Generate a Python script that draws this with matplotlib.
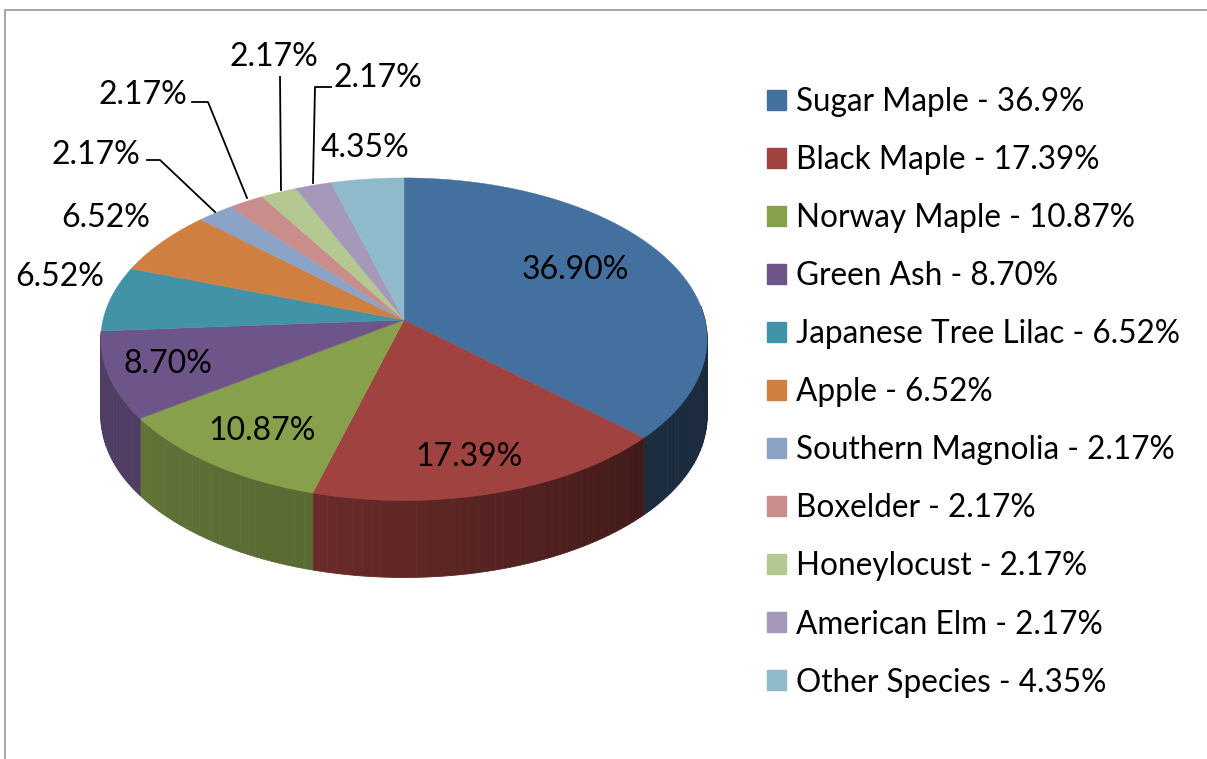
import numpy as np
import matplotlib
matplotlib.use('Agg')
import matplotlib.pyplot as plt
from matplotlib.patches import Patch

species = ['Sugar Maple', 'Black Maple', 'Norway Maple', 'Green Ash', 'Japanese Tree Lilac', 'Apple',
	'Southern Magnolia', 'Boxelder', 'Honeylocust', 'American Elm', 'Other Species']
shares = [36.90, 17.39, 10.87, 8.70, 6.52, 6.52, 2.17, 2.17, 2.17, 2.17, 4.35]
legend_values = ['36.9%', '17.39%', '10.87%', '8.70%', '6.52%', '6.52%', '2.17%', '2.17%', '2.17%', '2.17%', '4.35%']
colors = ['#44709f', '#a0423f', '#87a04c', '#6d5489', '#4292a8', '#cf8040',
	'#8ba3c6', '#c98e8c', '#b4c892', '#a598b8', '#8fbacb']
label_pos = [(575, 270), (469, 457), (262, 431), (168, 364), (60, 277), (106, 218),
	(96, 155), (143, 95), (274, 57), (378, 78), (365, 148)]
leaders = {6: [(147, 160), (160, 160), (215, 212)],
	7: [(192, 102), (208, 102), (247, 198)],
	8: [(280, 77), (281, 190)],
	9: [(331, 87), (315, 87), (313, 183)]}

plt.rcParams['font.family'] = ['Lato', 'DejaVu Sans']

# tilted disc, the far side is a bit smaller than the near side
CX, CY = 404, 320
RX, RY, PERSP = 301, 159, 0.119
DEPTH = 77


def project(theta):
	t = np.radians(theta)
	w = 1 + PERSP * np.cos(t)
	return CX + RX * np.sin(t) / w, CY - RY * np.cos(t) / w


fig = plt.figure(figsize=(12.07, 7.59), dpi=100)
ax = fig.add_axes([0, 0, 1, 1])
ax.set_xlim(0, 1207)
ax.set_ylim(759, 0)
ax.axis('off')

# chart border
ax.plot([5, 5, 1207], [759, 9.5, 9.5], color='#a6a6a6', lw=1.4, solid_joinstyle='miter')

edges = np.concatenate([[0], np.cumsum(shares)]) / sum(shares) * 360

# side wall, only the part facing us
shade_at = [85, 133, 195, 235, 275]
shade_val = [0.36, 0.40, 0.66, 0.72, 0.74]
for i, c in enumerate(colors):
	start, end = max(edges[i], 85), min(edges[i + 1], 266)
	if end <= start:
		continue
	steps = np.arange(start, end + 1.5, 1.5)
	steps[-1] = end
	base = np.array(matplotlib.colors.to_rgb(c))
	for a, b in zip(steps[:-1], steps[1:]):
		if b <= a:
			continue
		th = np.linspace(a, b, 4)
		x, y = project(th)
		f = np.interp((a + b) / 2, shade_at, shade_val)
		ax.fill(np.r_[x, x[::-1]], np.r_[y, y[::-1] + DEPTH], color=base * f, lw=0.6, zorder=2)

# top of the pie
for i, c in enumerate(colors):
	th = np.linspace(edges[i], edges[i + 1], 80)
	x, y = project(th)
	ax.fill(np.r_[CX, x], np.r_[CY, y], color=c, lw=0.3, zorder=3)

for i, v in enumerate(shares):
	ax.text(label_pos[i][0], label_pos[i][1], '%.2f%%' % v, fontsize=23, color='black',
		ha='center', va='center', zorder=5)

for pts in leaders.values():
	ax.plot([p[0] for p in pts], [p[1] for p in pts], color='black', lw=1.3, zorder=4)

handles = [Patch(color=c) for c in colors]
labels = ['%s - %s' % (s, v) for s, v in zip(species, legend_values)]
leg = ax.legend(handles, labels, loc='upper left', bbox_to_anchor=(767 / 1207, 1 - 87 / 759),
	frameon=False, fontsize=22.7, handlelength=0.6, handleheight=0.6, handletextpad=0.33,
	labelspacing=0.89, borderpad=0, borderaxespad=0)

fig.savefig('out.png', dpi=100)
